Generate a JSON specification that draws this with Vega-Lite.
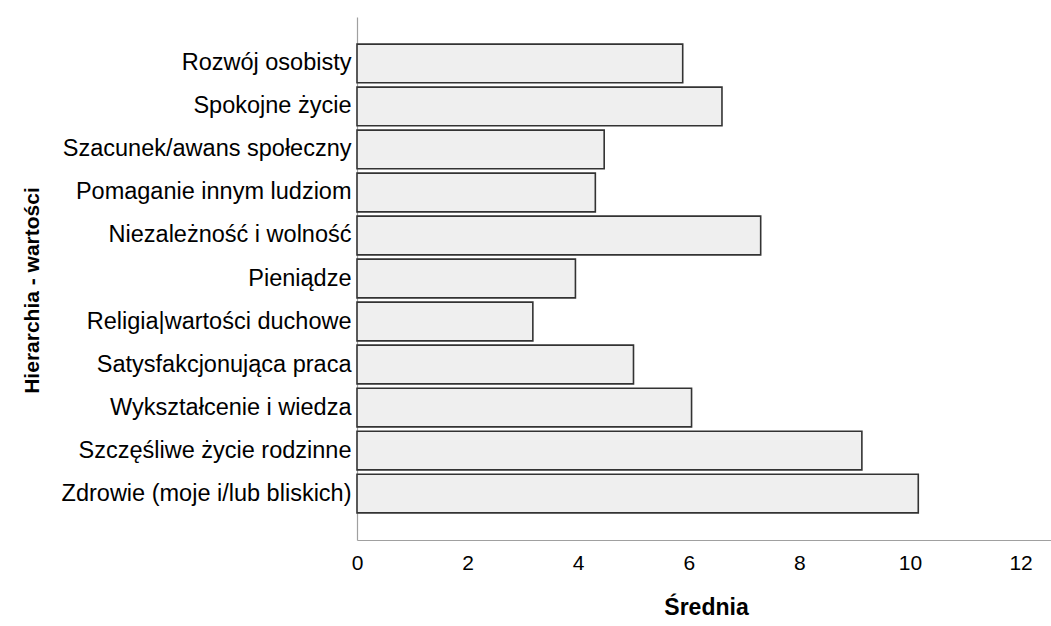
{
  "$schema": "https://vega.github.io/schema/vega-lite/v6.json",
  "autosize": {"type": "none"},
  "padding": {"left": 357, "top": 17, "right": 0, "bottom": 86},
  "width": 694,
  "height": 523,
  "background": "white",
  "config": {
    "view": {"stroke": null},
    "font": "Liberation Sans"
  },
  "data": {
    "values": [
      {"wartosc": "Rozwój osobisty", "srednia": 5.89},
      {"wartosc": "Spokojne życie", "srednia": 6.6},
      {"wartosc": "Szacunek/awans społeczny", "srednia": 4.47},
      {"wartosc": "Pomaganie innym ludziom", "srednia": 4.31},
      {"wartosc": "Niezależność i wolność", "srednia": 7.3},
      {"wartosc": "Pieniądze", "srednia": 3.95},
      {"wartosc": "Religia|wartości duchowe", "srednia": 3.18},
      {"wartosc": "Satysfakcjonująca praca", "srednia": 5.0},
      {"wartosc": "Wykształcenie i wiedza", "srednia": 6.05},
      {"wartosc": "Szczęśliwe życie rodzinne", "srednia": 9.13},
      {"wartosc": "Zdrowie (moje i/lub bliskich)", "srednia": 10.15}
    ]
  },
  "mark": {"type": "bar", "fill": "#efefef", "stroke": "#333333", "strokeWidth": 1.6},
  "encoding": {
    "y": {
      "field": "wartosc",
      "type": "nominal",
      "sort": null,
      "scale": {"paddingInner": 0.1, "paddingOuter": 0.63},
      "axis": {
        "title": "Hierarchia - wartości",
        "titleFont": "Liberation Sans",
        "titleFontSize": 21,
        "titleFontWeight": "bold",
        "titleColor": "black",
        "titleX": -315,
        "titleY": 273,
        "labelFont": "Liberation Sans",
        "labelFontSize": 23.5,
        "labelColor": "black",
        "labelPadding": 6,
        "labelLimit": 400,
        "ticks": false,
        "domainColor": "#a0a0a0",
        "domainWidth": 1.2
      }
    },
    "x": {
      "field": "srednia",
      "type": "quantitative",
      "scale": {"domain": [0, 12.55], "nice": false},
      "axis": {
        "title": "Średnia",
        "titleFont": "Liberation Sans",
        "titleFontSize": 23,
        "titleFontWeight": "bold",
        "titleColor": "black",
        "titleX": 349,
        "titleY": 56,
        "values": [0, 2, 4, 6, 8, 10, 12],
        "labelFont": "Liberation Sans",
        "labelFontSize": 21,
        "labelColor": "black",
        "labelPadding": 12,
        "labelFlush": false,
        "ticks": false,
        "grid": false,
        "domainColor": "#a0a0a0",
        "domainWidth": 1.2
      }
    }
  }
}
